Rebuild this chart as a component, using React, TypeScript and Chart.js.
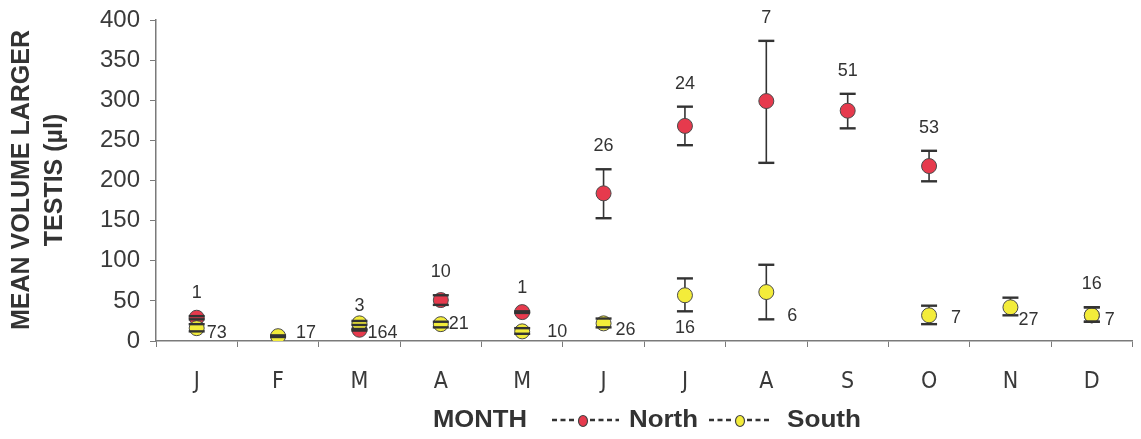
import { useEffect, useRef } from 'react';
import { Chart, registerables } from 'chart.js';

Chart.register(...registerables);

// ---------- data ----------
const months = ['J', 'F', 'M', 'A', 'M', 'J', 'J', 'A', 'S', 'O', 'N', 'D'];
const yTicks = [0, 50, 100, 150, 200, 250, 300, 350, 400];

const northMean = [29, null, 14, 51, 36, 184, 268, 299, 287, 218, null, 32];
const northLow = [27, null, 13, 45, 35, 153, 244, 222, 265, 199, null, 24];
const northHigh = [31, null, 15, 57, 37, 214, 292, 374, 308, 237, null, 42];
const northN = [1, null, 3, 10, 1, 26, 24, 7, 51, 53, null, 16];

const southMean = [16, 6, 22, 21, 12, 22, 57, 61, null, 32, 42, 32];
const southLow = [12, 5, 20, 17, 9, 17, 37, 27, null, 21, 32, 24];
const southHigh = [21, 7, 25, 24, 16, 28, 78, 95, null, 44, 54, 42];
const southN = [73, 17, 164, 21, 10, 26, 16, 6, null, 7, 27, 7];

// ---------- style ----------
const RED = '#e63a4d';
const YELLOW = '#f3ec3a';
const INK = '#333333';
const AXIS = '#7a7a7a';

// label placement for South sample sizes: dx/dy relative to point centre
const southLabelPlace: ({ dx: number; dy: number; align: CanvasTextAlign } | null)[] = [
  { dx: 10, dy: 5, align: 'left' },
  { dx: 18, dy: -3, align: 'left' },
  { dx: 8, dy: 10, align: 'left' },
  { dx: 8, dy: 0, align: 'left' },
  { dx: 25, dy: 1, align: 'left' },
  { dx: 12, dy: 7, align: 'left' },
  { dx: 0, dy: 33, align: 'center' },
  { dx: 21, dy: 24, align: 'left' },
  null,
  { dx: 22, dy: 3, align: 'left' },
  { dx: 8, dy: 13, align: 'left' },
  { dx: 13, dy: 5, align: 'left' },
];

const series = [
  { mean: northMean, low: northLow, high: northHigh },
  { mean: southMean, low: southLow, high: southHigh },
];

// draw text stretched horizontally to a target width (the scan's letters are wide)
function fitText(ctx: CanvasRenderingContext2D, text: string, x: number, y: number, width: number) {
  const w = ctx.measureText(text).width;
  ctx.save();
  ctx.translate(x, y);
  ctx.scale(width / w, 1);
  ctx.textAlign = 'left';
  ctx.fillText(text, 0, 0);
  ctx.restore();
}

const errorPlugin = {
  id: 'errorBars',
  beforeDatasetsDraw(chart: any) {
    const { ctx, scales } = chart;
    const x = scales.x, y = scales.y;
    ctx.save();
    ctx.strokeStyle = INK;
    ctx.lineWidth = 1.6;
    series.forEach((s) => {
      s.mean.forEach((m, i) => {
        if (m == null) return;
        const px = x.getPixelForValue(i);
        ctx.beginPath();
        ctx.moveTo(px, y.getPixelForValue(s.low[i] as number));
        ctx.lineTo(px, y.getPixelForValue(s.high[i] as number));
        ctx.stroke();
      });
    });
    ctx.restore();
  },
  afterDatasetsDraw(chart: any) {
    const { ctx, scales } = chart;
    const x = scales.x, y = scales.y;
    ctx.save();
    ctx.strokeStyle = INK;
    ctx.lineWidth = 2.4;
    series.forEach((s) => {
      s.mean.forEach((m, i) => {
        if (m == null) return;
        const px = x.getPixelForValue(i);
        [s.low[i], s.high[i]].forEach((v) => {
          const py = y.getPixelForValue(v as number);
          ctx.beginPath();
          ctx.moveTo(px - 8, py);
          ctx.lineTo(px + 8, py);
          ctx.stroke();
        });
      });
    });
    // sample size labels
    ctx.fillStyle = INK;
    ctx.font = '18px "Liberation Sans", Arial, sans-serif';
    ctx.textBaseline = 'middle';
    northN.forEach((n, i) => {
      if (n == null) return;
      const px = x.getPixelForValue(i);
      const py = y.getPixelForValue(northHigh[i] as number) - 23;
      ctx.textAlign = 'center';
      ctx.fillText(String(n), px, py);
    });
    southN.forEach((n, i) => {
      const place = southLabelPlace[i];
      if (n == null || !place) return;
      const px = x.getPixelForValue(i);
      const py = y.getPixelForValue(southMean[i] as number);
      ctx.textAlign = place.align;
      ctx.fillText(String(n), px + place.dx, py + place.dy);
    });
    ctx.restore();
  },
  afterDraw(chart: any) {
    const { ctx } = chart;
    ctx.save();
    // y-axis title (two lines, rotated)
    ctx.fillStyle = INK;
    ctx.font = 'bold 25px "Liberation Sans", Arial, sans-serif';
    ctx.textAlign = 'center';
    ctx.textBaseline = 'middle';
    ctx.translate(0, 180);
    ctx.rotate(-Math.PI / 2);
    ctx.fillText('MEAN VOLUME LARGER', 0, 22);
    ctx.fillText('TESTIS (µl)', 0, 55);
    ctx.restore();

    // x title + legend row
    ctx.save();
    const yRow = 420;
    ctx.fillStyle = INK;
    ctx.textBaseline = 'middle';
    ctx.font = 'bold 24px "Liberation Sans", Arial, sans-serif';
    fitText(ctx, 'MONTH', 433, yRow, 94);
    const drawKey = (x0: number, mx: number, x1: number, color: string) => {
      ctx.save();
      ctx.strokeStyle = INK;
      ctx.lineWidth = 2.4;
      ctx.setLineDash([5, 3.5]);
      ctx.beginPath();
      ctx.moveTo(x0, yRow);
      ctx.lineTo(mx - 6, yRow);
      ctx.moveTo(mx + 7, yRow);
      ctx.lineTo(x1, yRow);
      ctx.stroke();
      ctx.setLineDash([]);
      ctx.beginPath();
      ctx.ellipse(mx, yRow + 1, 4.5, 5.5, 0, 0, Math.PI * 2);
      ctx.fillStyle = color;
      ctx.fill();
      ctx.lineWidth = 1.2;
      ctx.strokeStyle = '#444';
      ctx.stroke();
      ctx.restore();
    };
    drawKey(552, 583, 619, RED);
    fitText(ctx, 'North', 629, yRow, 69);
    drawKey(709, 740, 769, YELLOW);
    fitText(ctx, 'South', 787, yRow, 74);
    ctx.restore();
  },
};

export default function App() {
  const ref = useRef<HTMLCanvasElement>(null);
  useEffect(() => {
    document.body.style.margin = '0';
    const chart = new Chart(ref.current as HTMLCanvasElement, {
      type: 'line',
      data: {
        labels: months,
        datasets: [
          {
            label: 'North',
            data: northMean as any,
            showLine: false,
            backgroundColor: RED,
            borderColor: '#4a4a4a',
            pointBackgroundColor: RED,
            pointBorderColor: '#4a4a4a',
            pointBorderWidth: 1,
            pointRadius: 7.5,
            order: 2,
          },
          {
            label: 'South',
            data: southMean as any,
            showLine: false,
            backgroundColor: YELLOW,
            borderColor: '#4a4a4a',
            pointBackgroundColor: YELLOW,
            pointBorderColor: '#4a4a4a',
            pointBorderWidth: 1,
            pointRadius: 7.5,
            order: 1,
          },
        ],
      },
      options: {
        animation: false,
        responsive: true,
        maintainAspectRatio: false,
        layout: { padding: { top: 20, right: 2, left: 0, bottom: 0 } },
        plugins: { legend: { display: false }, tooltip: { enabled: false } },
        scales: {
          x: {
            type: 'category',
            offset: true,
            afterFit: (s: any) => { s.height = 98; s.paddingLeft = 0; s.paddingRight = 0; },
            grid: {
              offset: true,
              drawOnChartArea: false,
              drawTicks: true,
              tickLength: 6,
              color: AXIS,
            },
            border: { display: true, color: AXIS, width: 1.5 },
            ticks: {
              color: '#3a3a3a',
              padding: 21,
              font: { family: '"Liberation Sans Narrow", "DejaVu Sans Condensed", "Liberation Sans", sans-serif', size: 23 },
            },
          },
          y: {
            min: 0,
            max: 400,
            afterFit: (s: any) => { s.width = 156; s.paddingTop = 0; s.paddingBottom = 0; },
            afterBuildTicks: (s: any) => { s.ticks = yTicks.map((v) => ({ value: v })); },
            grid: {
              drawOnChartArea: false,
              drawTicks: true,
              tickLength: 6,
              color: AXIS,
            },
            border: { display: true, color: AXIS, width: 1.5 },
            ticks: {
              color: '#3a3a3a',
              padding: 10,
              font: { family: '"Liberation Sans", Arial, sans-serif', size: 24 },
            },
          },
        },
      },
      plugins: [errorPlugin],
    });
    return () => chart.destroy();
  }, []);
  return (
    <div style={{ width: 1141, height: 439, position: 'relative' }}>
      <canvas ref={ref} />
    </div>
  );
}
